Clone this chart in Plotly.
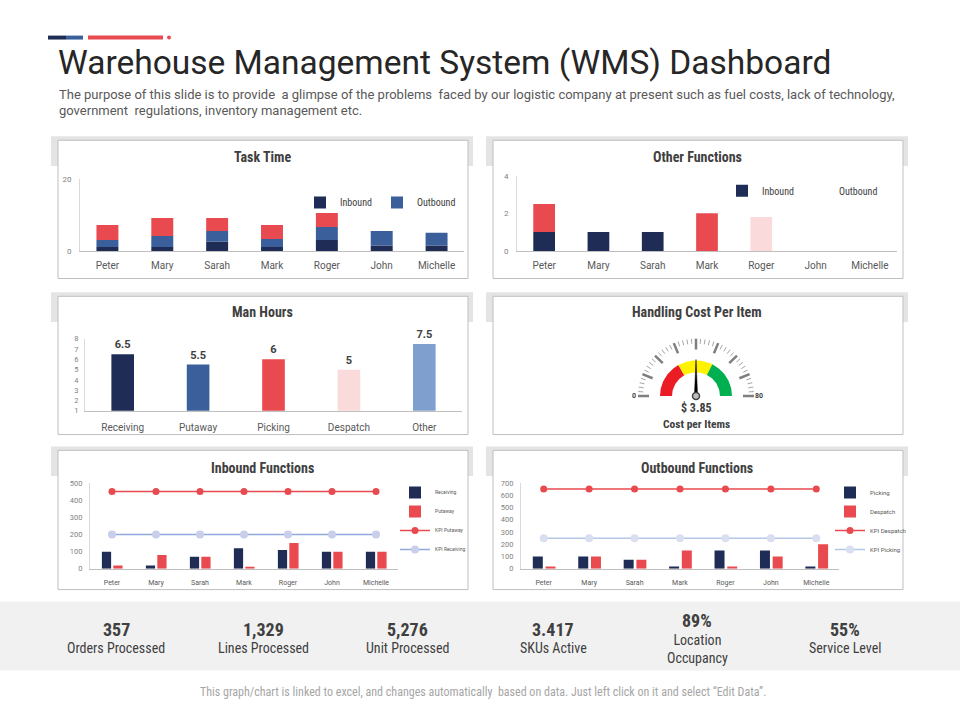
import numpy as np
import plotly.graph_objects as go

W, H = 960, 720

# ---------------- data ----------------
people = ["Peter", "Mary", "Sarah", "Mark", "Roger", "John", "Michelle"]

task_inbound = [1.1, 1.1, 2.5, 1.1, 3.0, 1.5, 1.5]
task_outbound = [1.9, 3.0, 3.0, 2.2, 3.6, 4.0, 3.5]
task_other = [4.2, 5.0, 3.6, 3.9, 3.9, 0, 0]

other_inbound = [1, 1, 1, 0, 0, 0, 0]
other_outbound = [0, 0, 0, 0, 0, 0, 0]
other_misc = [1.5, 0, 0, 2, 1.8, 0, 0]

man_hours_cats = ["Receiving", "Putaway", "Picking", "Despatch", "Other"]
man_hours = [6.5, 5.5, 6, 5, 7.5]

inb_receiving = [100, 20, 70, 120, 110, 100, 100]
inb_putaway = [20, 80, 70, 12, 150, 100, 100]
kpi_putaway = [450, 450, 450, 450, 450, 450, 450]
kpi_receiving = [200, 200, 200, 200, 200, 200, 200]

out_picking = [100, 100, 75, 20, 150, 150, 20]
out_despatch = [20, 100, 75, 150, 20, 100, 200]
kpi_despatch = [650, 650, 650, 650, 650, 650, 650]
kpi_picking = [250, 250, 250, 250, 250, 250, 250]

gauge_min, gauge_max = 0, 80
gauge_bands = [0, 27, 52, 80]
gauge_needle = 40
cost_per_item = "$ 3.85"

kpi_values = ["357", "1,329", "5,276", "3.417", "89%", "55%"]
kpi_labels = ["Orders Processed", "Lines Processed", "Unit Processed",
              "SKUs Active", "Location<br>Occupancy", "Service Level"]

# ---------------- styles ----------------
NAVY = "#1f2d56"
BLUE = "#3a5f9a"
RED = "#e84a4f"
PINK = "#fadadb"
LBLUE = "#7f9fcf"
FONT = "Roboto, Liberation Sans, Arial"
NARROW = "Liberation Sans Narrow, Roboto Condensed, Arial Narrow, Roboto"
TXT = "#404040"


def xd(a, b):
    return [a / W, b / W]


def yd(top, bot):
    return [1 - bot / H, 1 - top / H]


def px(x):
    return x / W


def py(y):
    return 1 - y / H


def cat_axis(domain, anchor, n, fs, standoff=3):
    return dict(domain=domain, anchor=anchor, type="category", range=[-0.5, n - 0.5],
                showgrid=False, zeroline=False, showline=True, linecolor="#bfbfbf",
                linewidth=1, ticks="", tickfont=dict(size=fs, color="#595959", family=FONT),
                ticklabelstandoff=standoff, fixedrange=True)


def val_axis(domain, anchor, rng, dtick, fs, standoff=6):
    return dict(domain=domain, anchor=anchor, range=rng, dtick=dtick, tick0=rng[0],
                showgrid=False, zeroline=False, showline=True, linecolor="#d9d9d9",
                linewidth=1, ticks="", tickfont=dict(size=fs, color="#7f7f7f", family=FONT),
                ticklabelstandoff=standoff, fixedrange=True)


fig = go.Figure()

# ---------------- Task Time (stacked) ----------------
base2 = list(np.add(task_inbound, task_outbound))
fig.add_trace(go.Bar(x=people, y=task_inbound, name="Inbound", marker_color=NAVY,
                     width=0.4, offset=-0.2, xaxis="x", yaxis="y", legend="legend"))
fig.add_trace(go.Bar(x=people, y=task_outbound, base=task_inbound, name="Outbound",
                     marker_color=BLUE, width=0.4, offset=-0.2, xaxis="x", yaxis="y",
                     legend="legend"))
fig.add_trace(go.Bar(x=people, y=task_other, base=base2, name="Other", marker_color=RED,
                     width=0.4, offset=-0.2, xaxis="x", yaxis="y", showlegend=False))

# ---------------- Other Functions ----------------
misc_base = list(np.add(other_inbound, other_outbound))
misc_colors = [PINK if p == "Roger" else RED for p in people]
fig.add_trace(go.Bar(x=people, y=other_inbound, name="Inbound", marker_color=NAVY,
                     width=0.4, offset=-0.2, xaxis="x2", yaxis="y2", legend="legend2"))
fig.add_trace(go.Bar(x=people, y=other_outbound, base=other_inbound, name="Outbound",
                     marker_color="#ffffff", width=0.4, offset=-0.2, xaxis="x2",
                     yaxis="y2", legend="legend2"))
fig.add_trace(go.Bar(x=people, y=other_misc, base=misc_base, name="Other",
                     marker_color=misc_colors, width=0.4, offset=-0.2, xaxis="x2",
                     yaxis="y2", showlegend=False))

# ---------------- Man Hours ----------------
fig.add_trace(go.Bar(x=man_hours_cats, y=man_hours,
                     marker_color=[NAVY, BLUE, RED, PINK, LBLUE], width=0.3, offset=-0.15,
                     texttemplate="<b>%{y}</b>", textposition="outside", cliponaxis=False,
                     textfont=dict(size=11, color=TXT, family=FONT),
                     xaxis="x3", yaxis="y3", showlegend=False))

# ---------------- Gauge ----------------
def v2a(v):
    return np.pi * (1 - (v - gauge_min) / (gauge_max - gauge_min))


R_OUT, R_IN = 36, 24
band_colors = ["#ec1c24", "#fff200", "#00b050"]
for v0, v1, col in zip(gauge_bands[:-1], gauge_bands[1:], band_colors):
    t = np.linspace(v2a(v0), v2a(v1), 40)
    xs = np.concatenate([R_OUT * np.cos(t), R_IN * np.cos(t[::-1])])
    ys = np.concatenate([R_OUT * np.sin(t), R_IN * np.sin(t[::-1])])
    fig.add_trace(go.Scatter(x=xs, y=ys, fill="toself", fillcolor=col, mode="lines",
                             line=dict(width=0, color=col), xaxis="x4", yaxis="y4",
                             showlegend=False, hoverinfo="skip"))

tick_vals = np.arange(gauge_min, gauge_max + 1, 2)
minor_x, minor_y, major_x, major_y = [], [], [], []
for v in tick_vals:
    a = v2a(v)
    if v % 10 == 0:
        major_x += [47 * np.cos(a), 58 * np.cos(a), None]
        major_y += [47 * np.sin(a), 58 * np.sin(a), None]
    else:
        minor_x += [53 * np.cos(a), 58 * np.cos(a), None]
        minor_y += [53 * np.sin(a), 58 * np.sin(a), None]
fig.add_trace(go.Scatter(x=minor_x, y=minor_y, mode="lines", line=dict(color="#a6a6a6", width=1),
                         xaxis="x4", yaxis="y4", showlegend=False, hoverinfo="skip"))
fig.add_trace(go.Scatter(x=major_x, y=major_y, mode="lines", line=dict(color="#7f7f7f", width=2.5),
                         xaxis="x4", yaxis="y4", showlegend=False, hoverinfo="skip"))

na = v2a(gauge_needle)
L = 37
nx = [1.6 * np.cos(na + np.pi / 2), L * np.cos(na), 1.6 * np.cos(na - np.pi / 2)]
ny = [1.6 * np.sin(na + np.pi / 2), L * np.sin(na), 1.6 * np.sin(na - np.pi / 2)]
fig.add_trace(go.Scatter(x=nx, y=ny, fill="toself", fillcolor="#000000", mode="lines",
                         line=dict(width=0.5, color="#000000"), xaxis="x4", yaxis="y4",
                         showlegend=False, hoverinfo="skip"))
fig.add_trace(go.Scatter(x=[0], y=[0], mode="markers",
                         marker=dict(size=7, color="#bfbfbf", line=dict(color="#404040", width=1.5)),
                         xaxis="x4", yaxis="y4", showlegend=False, hoverinfo="skip"))

# ---------------- Inbound Functions ----------------
fig.add_trace(go.Bar(x=people, y=inb_receiving, name="Receiving", marker_color=NAVY,
                     width=0.21, offset=-0.23, xaxis="x5", yaxis="y5", legend="legend3"))
fig.add_trace(go.Bar(x=people, y=inb_putaway, name="Putaway", marker_color=RED,
                     width=0.21, offset=0.03, xaxis="x5", yaxis="y5", legend="legend3"))
fig.add_trace(go.Scatter(x=people, y=kpi_putaway, name="KPI Putaway", mode="lines+markers",
                         line=dict(color=RED, width=1.5), marker=dict(size=7, color=RED),
                         xaxis="x5", yaxis="y5", legend="legend3"))
fig.add_trace(go.Scatter(x=people, y=kpi_receiving, name="KPI Receiving", mode="lines+markers",
                         line=dict(color="#8ea9db", width=1.5),
                         marker=dict(size=8, color="#c9cfea"),
                         xaxis="x5", yaxis="y5", legend="legend3"))

# ---------------- Outbound Functions ----------------
fig.add_trace(go.Bar(x=people, y=out_picking, name="Picking", marker_color=NAVY,
                     width=0.22, offset=-0.24, xaxis="x6", yaxis="y6", legend="legend4"))
fig.add_trace(go.Bar(x=people, y=out_despatch, name="Despatch", marker_color=RED,
                     width=0.22, offset=0.04, xaxis="x6", yaxis="y6", legend="legend4"))
fig.add_trace(go.Scatter(x=people, y=kpi_despatch, name="KPI Despatch", mode="lines+markers",
                         line=dict(color=RED, width=1.5), marker=dict(size=7, color=RED),
                         xaxis="x6", yaxis="y6", legend="legend4"))
fig.add_trace(go.Scatter(x=people, y=kpi_picking, name="KPI Picking", mode="lines+markers",
                         line=dict(color="#b4c7e7", width=1.5),
                         marker=dict(size=8, color="#d9dff0"),
                         xaxis="x6", yaxis="y6", legend="legend4"))

fig.update_traces(marker_line_width=0, selector=dict(type="bar"))

# ---------------- shapes ----------------
shapes = []
panels = [(58, 138, 468, 278), (493, 138, 903, 278),
          (58, 296, 468, 436), (493, 296, 903, 436),
          (58, 452, 468, 593), (493, 452, 903, 593)]
for x0, y0, x1, y1 in panels:
    shapes.append(dict(type="rect", xref="paper", yref="paper", x0=px(x0 - 7), x1=px(x1 + 5),
                       y0=py(y0 + 26), y1=py(y0 - 4), fillcolor="#e4e4e4", line=dict(width=0),
                       layer="below"))
    shapes.append(dict(type="rect", xref="paper", yref="paper", x0=px(x0), x1=px(x1),
                       y0=py(y1), y1=py(y0), fillcolor="#ffffff",
                       line=dict(color="#bfbfbf", width=1), layer="below"))
# KPI band
shapes.append(dict(type="rect", xref="paper", yref="paper", x0=0, x1=1, y0=py(675), y1=py(605),
                   fillcolor="#f1f1f1", line=dict(width=0), layer="below"))
# decorative header bars
shapes.append(dict(type="rect", xref="paper", yref="paper", x0=px(48), x1=px(66), y0=py(36), y1=py(32),
                   fillcolor=NAVY, line=dict(width=0), layer="below"))
shapes.append(dict(type="rect", xref="paper", yref="paper", x0=px(66), x1=px(83), y0=py(36), y1=py(32),
                   fillcolor=BLUE, line=dict(width=0), layer="below"))
shapes.append(dict(type="rect", xref="paper", yref="paper", x0=px(88), x1=px(163), y0=py(36), y1=py(32),
                   fillcolor=RED, line=dict(width=0), layer="below"))
shapes.append(dict(type="circle", xref="paper", yref="paper", x0=px(167), x1=px(171), y0=py(36), y1=py(32),
                   fillcolor=RED, line=dict(width=0), layer="below"))

# ---------------- annotations ----------------
ann = []


def text(x, y, s, size, color=TXT, bold=False, family=FONT, xanchor="center", **kw):
    ann.append(dict(xref="paper", yref="paper", x=px(x), y=py(y), text=(f"<b>{s}</b>" if bold else s),
                    showarrow=False, xanchor=xanchor, yanchor="middle",
                    font=dict(size=size, color=color, family=family), **kw))


text(56, 59, "Warehouse Management System (WMS) Dashboard", 33.5, color="#262626", xanchor="left")
text(57, 92, "The purpose of this slide is to provide  a glimpse of the problems  faced by our logistic "
             "company at present such as fuel costs, lack of technology,", 13, color="#595959",
     xanchor="left")
text(57, 108, "government  regulations, inventory management etc.", 13, color="#595959", xanchor="left")

titles = [("Task Time", 262, 155), ("Other Functions", 697, 155), ("Man Hours", 262, 312),
          ("Handling Cost Per Item", 697, 312), ("Inbound Functions", 262, 470),
          ("Outbound Functions", 697, 470)]
for s, x, y in titles:
    text(x, y, s, 14, color="#404040", bold=True, family=NARROW)

# gauge texts (in gauge axis units)
for s, gx in [(str(gauge_min), -62), (str(gauge_max), 63)]:
    ann.append(dict(xref="x4", yref="y4", x=gx, y=0, text=f"<b>{s}</b>", showarrow=False,
                    font=dict(size=7, color=TXT, family=FONT)))
ann.append(dict(xref="x4", yref="y4", x=0, y=-12, text=f"<b>{cost_per_item}</b>", showarrow=False,
                font=dict(size=12, color=TXT, family=NARROW)))
ann.append(dict(xref="x4", yref="y4", x=0, y=-28, text="<b>Cost per Items</b>", showarrow=False,
                font=dict(size=11.5, color=TXT, family=NARROW)))

kpi_x = [116, 263, 407, 553, 697, 845]
for v, lab, x in zip(kpi_values, kpi_labels, kpi_x):
    if "<br>" in lab:
        text(x, 624, v, 18, color=TXT, bold=True, family=NARROW)
        text(x, 653, lab, 14, color=TXT, family=NARROW)
    else:
        text(x, 633, v, 18, color=TXT, bold=True, family=NARROW)
        text(x, 652, lab, 14, color=TXT, family=NARROW)

text(483, 697, "This graph/chart is linked to excel, and changes automatically  based on data. "
               "Just left click on it and select \u201cEdit Data\u201d.", 12, color="#a6a6a6",
     family=NARROW)

# ---------------- layout ----------------
leg_common = dict(bgcolor="rgba(0,0,0,0)", borderwidth=0, itemclick=False, itemdoubleclick=False)

fig.update_layout(
    width=W, height=H, autosize=False, margin=dict(l=0, r=0, t=0, b=0),
    paper_bgcolor="#ffffff", plot_bgcolor="rgba(0,0,0,0)",
    barmode="overlay", font=dict(family=FONT, color=TXT),
    xaxis=cat_axis(xd(80, 464), "y", 7, 10, 5),
    yaxis=val_axis(yd(177, 250), "x", [0, 20], 20, 8),
    xaxis2=cat_axis(xd(517, 897), "y2", 7, 10, 5),
    yaxis2=val_axis(yd(174, 250), "x2", [0, 4], 2, 8),
    xaxis3=cat_axis(xd(85, 462), "y3", 5, 10, 7),
    yaxis3=val_axis(yd(339, 412), "x3", [1, 8], 1, 7.5, 4),
    xaxis4=dict(domain=xd(616, 776), anchor="y4", range=[-80, 80], visible=False, fixedrange=True),
    yaxis4=dict(domain=yd(332, 432), anchor="x4", range=[-35, 65], visible=False, fixedrange=True),
    xaxis5=cat_axis(xd(90, 398), "y5", 7, 7, 7),
    yaxis5=val_axis(yd(485, 572), "x5", [0, 500], 100, 7.5, 5),
    xaxis6=cat_axis(xd(521, 839), "y6", 7, 7, 7),
    yaxis6=val_axis(yd(485, 572), "x6", [0, 700], 100, 7.5, 5),
    legend=dict(orientation="h", x=px(300), y=py(201), xanchor="left", yanchor="middle",
                font=dict(size=10, color="#404040", family=NARROW), **leg_common),
    legend2=dict(orientation="h", x=px(722), y=py(189), xanchor="left", yanchor="middle",
                 font=dict(size=10, color="#404040", family=NARROW), **leg_common),
    legend3=dict(orientation="v", x=px(395), y=py(480), xanchor="left", yanchor="top",
                 font=dict(size=5, color="#595959", family=FONT), tracegroupgap=0, **leg_common),
    legend4=dict(orientation="v", x=px(830), y=py(480), xanchor="left", yanchor="top",
                 font=dict(size=6, color="#595959", family=FONT), tracegroupgap=0, **leg_common),
    shapes=shapes, annotations=ann, showlegend=True,
)

fig.write_html("out.html", config={"displayModeBar": False})
